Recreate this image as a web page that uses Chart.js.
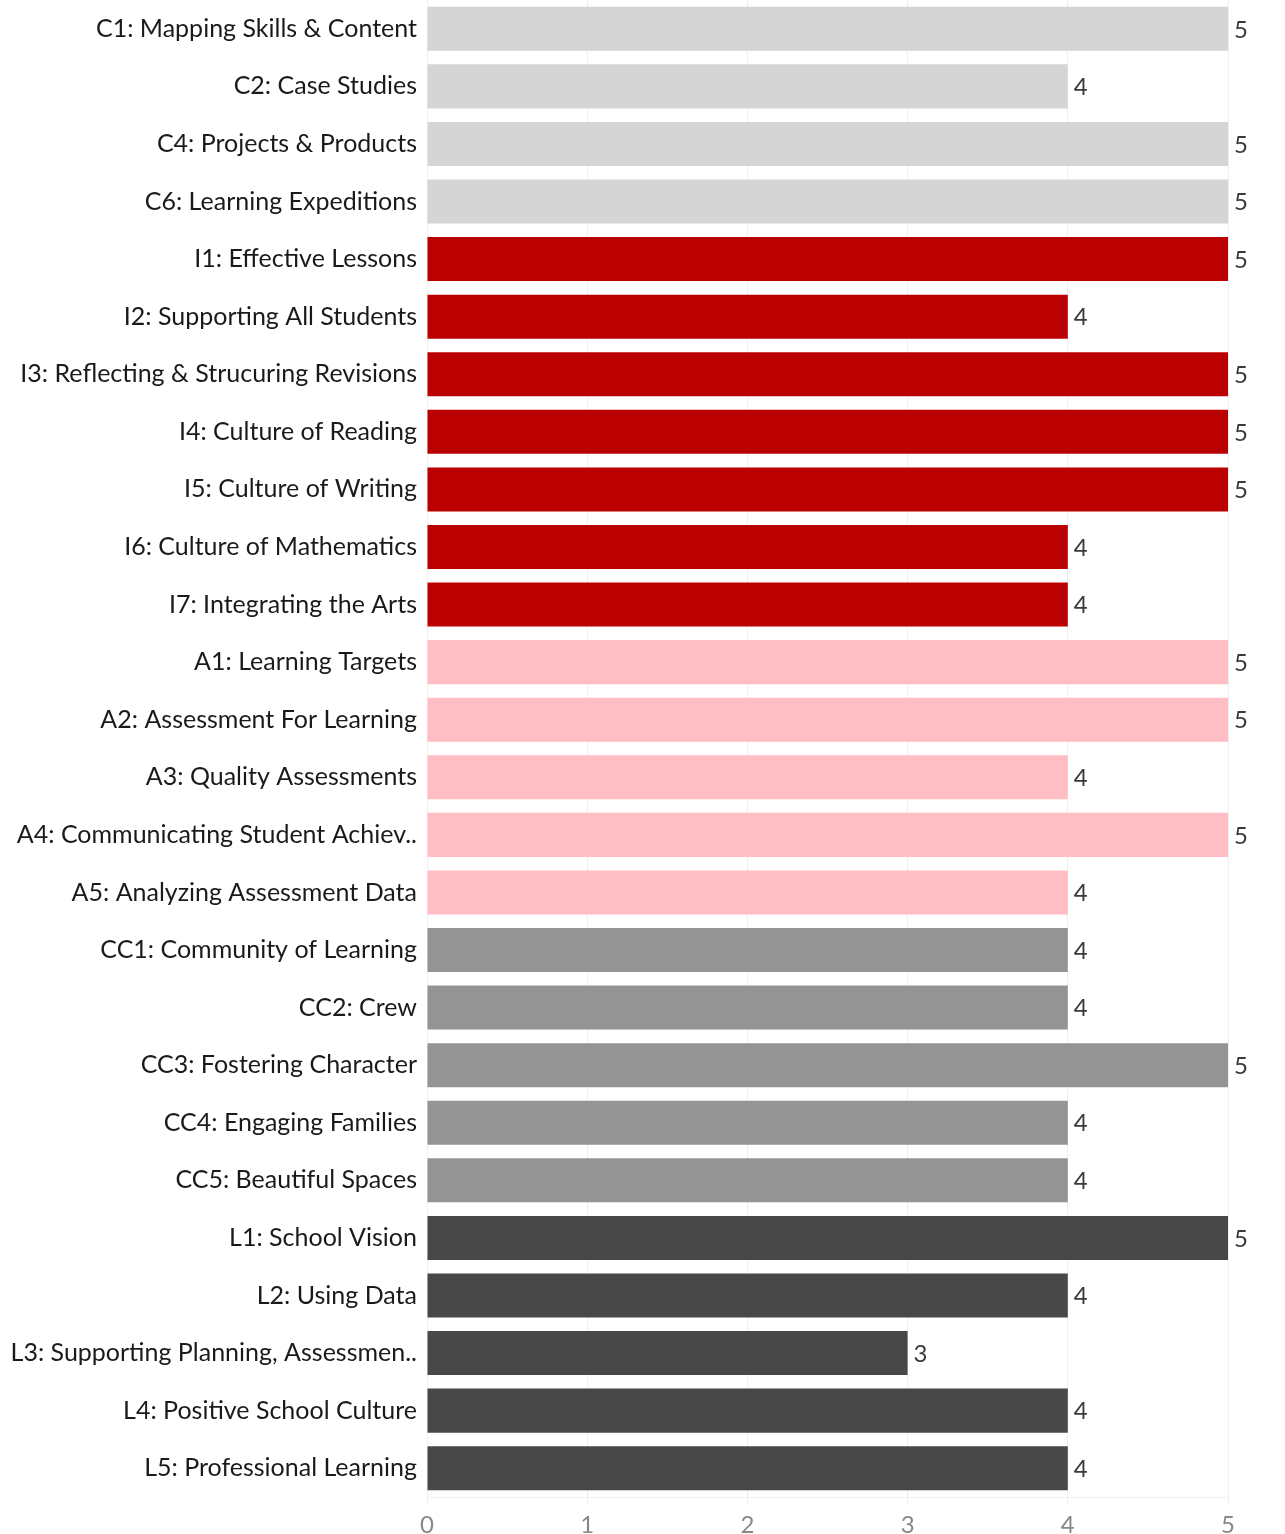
<!DOCTYPE html>
<html lang="en">
<head>
    <meta charset="UTF-8">
    <title>Scores</title>
    <style>
        body { margin: 0; background: #fff; }
        canvas { display: block; }
    </style>
</head>
<body>
    <canvas id="myChart" width="1285" height="1534"></canvas>

    <script src="https://cdn.jsdelivr.net/npm/chart.js@4.4.0/dist/chart.umd.min.js"></script>
    <script type="text/javascript">
    const labels = [
        "C1: Mapping Skills & Content", "C2: Case Studies", "C4: Projects & Products", "C6: Learning Expeditions",
        "I1: Effective Lessons", "I2: Supporting All Students", "I3: Reflecting & Strucuring Revisions",
        "I4: Culture of Reading", "I5: Culture of Writing", "I6: Culture of Mathematics", "I7: Integrating the Arts",
        "A1: Learning Targets", "A2: Assessment For Learning", "A3: Quality Assessments",
        "A4: Communicating Student Achiev..", "A5: Analyzing Assessment Data",
        "CC1: Community of Learning", "CC2: Crew", "CC3: Fostering Character", "CC4: Engaging Families",
        "CC5: Beautiful Spaces",
        "L1: School Vision", "L2: Using Data", "L3: Supporting Planning, Assessmen..",
        "L4: Positive School Culture", "L5: Professional Learning"
    ];
    const scores = [5, 4, 5, 5, 5, 4, 5, 5, 5, 4, 4, 5, 5, 4, 5, 4, 4, 4, 5, 4, 4, 5, 4, 3, 4, 4];
    const groups = ["C", "C", "C", "C", "I", "I", "I", "I", "I", "I", "I", "A", "A", "A", "A", "A",
        "CC", "CC", "CC", "CC", "CC", "L", "L", "L", "L", "L"];
    const groupColors = { C: "#d5d5d5", I: "#ba0000", A: "#ffbec4", CC: "#949494", L: "#484848" };
    const xTicks = [0, 1, 2, 3, 4, 5];

    const font = "Lato, 'Open Sans', sans-serif";

    // writes the score just past the end of each bar
    const valueLabels = {
        id: 'valueLabels',
        afterDatasetsDraw(chart) {
            const c = chart.ctx;
            const meta = chart.getDatasetMeta(0);
            c.save();
            c.font = "24px " + font;
            c.fillStyle = "#3a3a3a";
            c.textAlign = "left";
            c.textBaseline = "middle";
            meta.data.forEach((bar, i) => {
                c.fillText(scores[i], bar.x + 6, bar.y + 1);
            });
            c.restore();
        }
    };

    var ctx = document.getElementById('myChart').getContext('2d');
    var chart = new Chart(ctx, {
        type: 'bar',
        data: {
            labels: labels,
            datasets: [{
                data: scores,
                backgroundColor: groups.map(g => groupColors[g]),
                categoryPercentage: 1,
                barPercentage: 0.765
            }]
        },
        options: {
            indexAxis: 'y',
            responsive: false,
            animation: false,
            layout: { padding: { top: 0, right: 57, bottom: 0, left: 0 } },
            plugins: { legend: { display: false }, tooltip: { enabled: false } },
            scales: {
                x: {
                    min: 0,
                    max: 5,
                    afterBuildTicks: scale => { scale.ticks = xTicks.map(v => ({ value: v })); },
                    afterFit: scale => { scale.height = 37; scale.paddingLeft = 0; scale.paddingRight = 0; },
                    grid: { color: "#efefef", tickLength: 8, drawOnChartArea: true },
                    border: { color: "#efefef" },
                    ticks: { color: "#888", font: { family: font, size: 24 }, padding: 6 }
                },
                y: {
                    afterFit: scale => { scale.width = 427; scale.paddingTop = 0; scale.paddingBottom = 0; },
                    grid: { display: false, drawTicks: false },
                    border: { display: false },
                    ticks: { color: "#1a1a1a", font: { family: font, size: 25 }, padding: 10, autoSkip: false }
                }
            }
        },
        plugins: [valueLabels]
    });
    </script>
</body>
</html>
